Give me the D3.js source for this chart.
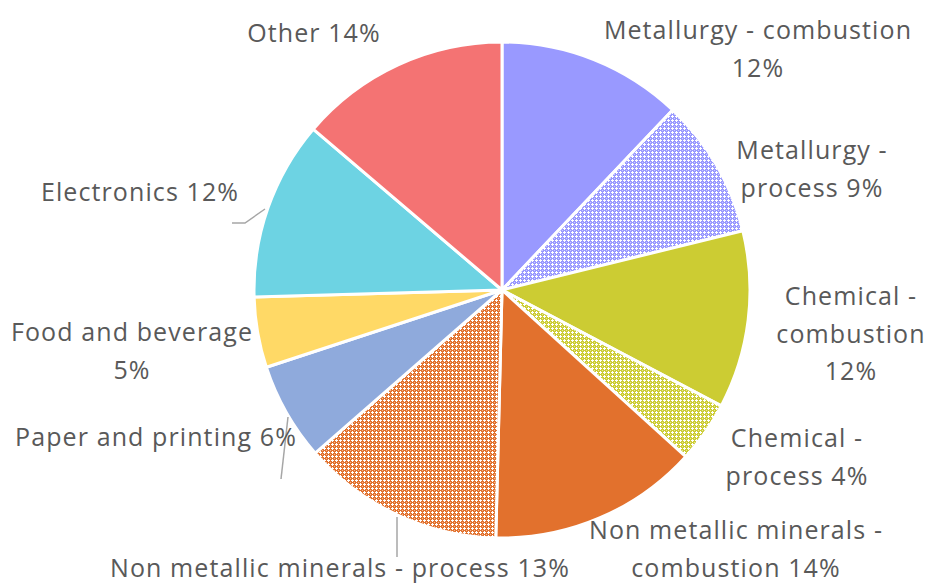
<!DOCTYPE html>
<html><head><meta charset="utf-8">
<script src="https://cdn.jsdelivr.net/npm/d3@7"></script>
<style>html,body{margin:0;padding:0;background:#fff;}svg{display:block;}</style>
</head><body>
<svg id="chart" width="927" height="584"></svg>
<script>
// ---- data ----
const categories = ["Metallurgy - combustion","Metallurgy - process","Chemical - combustion","Chemical - process",
  "Non metallic minerals - combustion","Non metallic minerals - process","Paper and printing","Food and beverage","Electronics","Other"];
const shares = [12.1, 9.1, 11.6, 4.0, 13.7, 13.2, 6.4, 4.6, 11.7, 13.8];
const pctLabels = ["12%","9%","12%","4%","14%","13%","6%","5%","12%","14%"];
const colors = ["#9999ff","#9999ff","#cccc33","#cccc33","#e2712d","#e2712d","#8faadc","#ffd966","#6dd3e3","#f47373"];
const patterned = [false,true,false,true,false,true,false,false,false,false];
// label text lines
const labelLines = [
  ["Metallurgy - combustion","12%"],
  ["Metallurgy -","process 9%"],
  ["Chemical -","combustion","12%"],
  ["Chemical -","process 4%"],
  ["Non metallic minerals -","combustion 14%"],
  ["Non metallic minerals - process 13%"],
  ["Paper and printing 6%"],
  ["Food and beverage","5%"],
  ["Electronics 12%"],
  ["Other 14%"]
];
// layout (label centers of first line baseline)
const labelAnchor = [[758,39],[812,159],[851,305],[797,447],[736,539],[340,577],[156,446],[132,341],[140,201],[314,42]];

const svg = d3.select("#chart");
const cx = 502, cy = 290, R = 248;
const defs = svg.append("defs");
colors.forEach((c,i)=>{
  if(!patterned[i]) return;
  const p = defs.append("pattern").attr("id","pat"+i).attr("patternUnits","userSpaceOnUse")
    .attr("width",4).attr("height",4);
  p.append("rect").attr("width",4).attr("height",4).attr("fill",c);
  p.append("rect").attr("x",2).attr("y",1).attr("width",1).attr("height",3).attr("fill","#fff");
  p.append("rect").attr("x",1).attr("y",2).attr("width",3).attr("height",1).attr("fill","#fff");
  p.append("rect").attr("x",0).attr("y",0).attr("width",1).attr("height",1).attr("fill","#fff").attr("opacity",0.5);
});

const pie = d3.pie().sort(null).value(d=>d)(shares);
const arc = d3.arc().innerRadius(0).outerRadius(R);
const g = svg.append("g").attr("transform",`translate(${cx},${cy})`);
g.selectAll("path").data(pie).join("path")
  .attr("d",arc)
  .attr("fill",(d,i)=>patterned[i]?`url(#pat${i})`:colors[i])
  .attr("stroke","#fff").attr("stroke-width",3).attr("stroke-linejoin","round");

// leader lines
const leaders = [
  [[265,209],[245,223],[232,223]],
  [[288,417],[281,479]],
  [[397,517],[397,557]]
];
svg.selectAll("polyline.leader").data(leaders).join("polyline")
  .attr("class","leader")
  .attr("points",d=>d.map(p=>p.join(",")).join(" "))
  .attr("fill","none").attr("stroke","#a6a6a6").attr("stroke-width",1.5);

const lab = svg.append("g").attr("font-family","'Open Sans', sans-serif").attr("font-size",25)
  .attr("letter-spacing","1.1px").attr("fill","#595959");
labelLines.forEach((lines,i)=>{
  const t = lab.append("text").attr("text-anchor","middle")
    .attr("x",labelAnchor[i][0]).attr("y",labelAnchor[i][1]);
  lines.forEach((ln,j)=>{
    t.append("tspan").attr("x",labelAnchor[i][0]).attr("dy",j===0?0:37.5).text(ln);
  });
});
</script>
</body></html>
